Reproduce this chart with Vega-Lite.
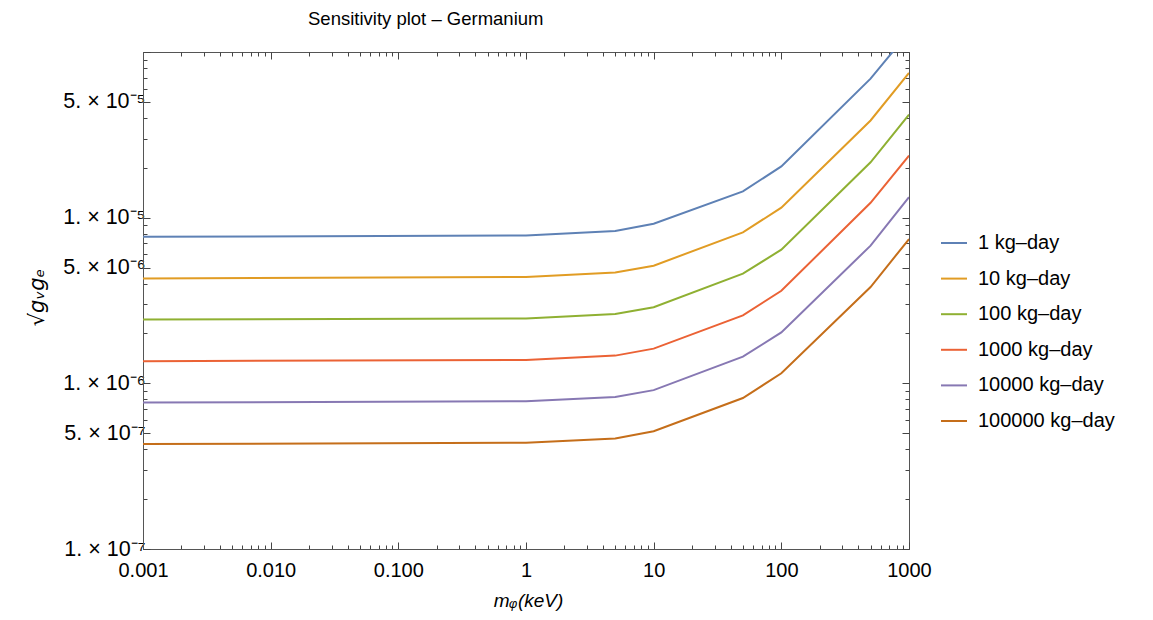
{
  "$schema": "https://vega.github.io/schema/vega-lite/v6.json",
  "width": 766,
  "height": 497,
  "autosize": "none",
  "padding": {"left": 143, "top": 52, "right": 244, "bottom": 71},
  "background": "white",
  "config": {
    "font": "Liberation Sans",
    "view": {"stroke": "#555", "strokeWidth": 1}
  },
  "title": {
    "text": "Sensitivity plot – Germanium",
    "anchor": "start",
    "frame": "group",
    "dx": 165,
    "offset": 13,
    "fontSize": 18.5,
    "fontWeight": "normal",
    "font": "Liberation Sans",
    "color": "black"
  },
  "data": {
    "values": [
      {"series": "1 kg–day", "m": 0.001, "g": 7.67e-6},
      {"series": "1 kg–day", "m": 1, "g": 7.8e-6},
      {"series": "1 kg–day", "m": 5, "g": 8.3e-6},
      {"series": "1 kg–day", "m": 10, "g": 9.2e-6},
      {"series": "1 kg–day", "m": 50, "g": 1.44e-5},
      {"series": "1 kg–day", "m": 100, "g": 2.04e-5},
      {"series": "1 kg–day", "m": 500, "g": 6.9e-5},
      {"series": "1 kg–day", "m": 1000, "g": 1.32e-4},
      {"series": "10 kg–day", "m": 0.001, "g": 4.3e-6},
      {"series": "10 kg–day", "m": 1, "g": 4.38e-6},
      {"series": "10 kg–day", "m": 5, "g": 4.67e-6},
      {"series": "10 kg–day", "m": 10, "g": 5.13e-6},
      {"series": "10 kg–day", "m": 50, "g": 8.15e-6},
      {"series": "10 kg–day", "m": 100, "g": 1.15e-5},
      {"series": "10 kg–day", "m": 500, "g": 3.86e-5},
      {"series": "10 kg–day", "m": 1000, "g": 7.48e-5},
      {"series": "100 kg–day", "m": 0.001, "g": 2.43e-6},
      {"series": "100 kg–day", "m": 1, "g": 2.46e-6},
      {"series": "100 kg–day", "m": 5, "g": 2.62e-6},
      {"series": "100 kg–day", "m": 10, "g": 2.88e-6},
      {"series": "100 kg–day", "m": 50, "g": 4.59e-6},
      {"series": "100 kg–day", "m": 100, "g": 6.41e-6},
      {"series": "100 kg–day", "m": 500, "g": 2.16e-5},
      {"series": "100 kg–day", "m": 1000, "g": 4.19e-5},
      {"series": "1000 kg–day", "m": 0.001, "g": 1.36e-6},
      {"series": "1000 kg–day", "m": 1, "g": 1.385e-6},
      {"series": "1000 kg–day", "m": 5, "g": 1.47e-6},
      {"series": "1000 kg–day", "m": 10, "g": 1.62e-6},
      {"series": "1000 kg–day", "m": 50, "g": 2.57e-6},
      {"series": "1000 kg–day", "m": 100, "g": 3.62e-6},
      {"series": "1000 kg–day", "m": 500, "g": 1.23e-5},
      {"series": "1000 kg–day", "m": 1000, "g": 2.37e-5},
      {"series": "10000 kg–day", "m": 0.001, "g": 7.66e-7},
      {"series": "10000 kg–day", "m": 1, "g": 7.8e-7},
      {"series": "10000 kg–day", "m": 5, "g": 8.28e-7},
      {"series": "10000 kg–day", "m": 10, "g": 9.1e-7},
      {"series": "10000 kg–day", "m": 50, "g": 1.45e-6},
      {"series": "10000 kg–day", "m": 100, "g": 2.03e-6},
      {"series": "10000 kg–day", "m": 500, "g": 6.78e-6},
      {"series": "10000 kg–day", "m": 1000, "g": 1.33e-5},
      {"series": "100000 kg–day", "m": 0.001, "g": 4.3e-7},
      {"series": "100000 kg–day", "m": 1, "g": 4.38e-7},
      {"series": "100000 kg–day", "m": 5, "g": 4.64e-7},
      {"series": "100000 kg–day", "m": 10, "g": 5.14e-7},
      {"series": "100000 kg–day", "m": 50, "g": 8.15e-7},
      {"series": "100000 kg–day", "m": 100, "g": 1.15e-6},
      {"series": "100000 kg–day", "m": 500, "g": 3.81e-6},
      {"series": "100000 kg–day", "m": 1000, "g": 7.43e-6}
    ]
  },
  "layer": [
    {
      "mark": {"type": "line", "clip": true, "strokeWidth": 2},
      "encoding": {
        "x": {
          "field": "m", "type": "quantitative",
          "scale": {"type": "log", "domain": [0.001, 1000], "nice": false},
          "axis": {
            "orient": "bottom",
            "title": "mᵩ(keV)",
            "titleFont": "Liberation Sans",
            "titleFontSize": 19,
            "titleFontWeight": "normal",
            "titleFontStyle": "italic",
            "titleColor": "black",
            "titleX": 385,
            "titleY": 51,
            "titleBaseline": "middle",
            "titleAlign": "center",
            "values": [0.001,0.002,0.003,0.004,0.005,0.006,0.007,0.008,0.009,0.01,0.02,0.03,0.04,0.05,0.06,0.07,0.08,0.09,0.1,0.2,0.3,0.4,0.5,0.6,0.7,0.8,0.9,1,2,3,4,5,6,7,8,9,10,20,30,40,50,60,70,80,90,100,200,300,400,500,600,700,800,900,1000],
            "labelExpr": "datum.value == 0.001 ? '0.001' : datum.value == 0.01 ? '0.010' : datum.value == 0.1 ? '0.100' : datum.value == 1 ? '1' : datum.value == 10 ? '10' : datum.value == 100 ? '100' : datum.value == 1000 ? '1000' : ''",
            "labelFontSize": 20,
            "labelColor": "black",
            "labelPadding": 18,
            "labelFlush": false,
            "labelBound": false,
            "labelAlign": "center",
            "labelOverlap": false,
            "grid": false,
            "domainColor": "#555",
            "tickColor": "#444",
            "tickSize": {"condition": {"test": "datum.value == 0.001 || datum.value == 0.01 || datum.value == 0.1 || datum.value == 1 || datum.value == 10 || datum.value == 100 || datum.value == 1000", "value": -7}, "value": -4}
          }
        },
        "y": {
          "field": "g", "type": "quantitative",
          "scale": {"type": "log", "domain": [1e-7, 1e-4], "nice": false},
          "axis": {
            "orient": "left",
            "title": "√gᵥgₑ",
            "titleFont": "DejaVu Sans",
            "titleFontSize": 21,
            "titleFontWeight": "normal",
            "titleFontStyle": "italic",
            "titleColor": "black",
            "titleAngle": 270,
            "titleX": -106,
            "titleY": 245,
            "titleBaseline": "middle",
            "titleAlign": "center",
            "values": [1e-7,2e-7,3e-7,4e-7,5e-7,6e-7,7e-7,8e-7,9e-7,1e-6,2e-6,3e-6,4e-6,5e-6,6e-6,7e-6,8e-6,9e-6,1e-5,2e-5,3e-5,4e-5,5e-5,6e-5,7e-5,8e-5,9e-5,1e-4],
            "labelExpr": "datum.value == 1e-7 ? '1. × 10⁻⁷' : datum.value == 5e-7 ? '5. × 10⁻⁷' : datum.value == 1e-6 ? '1. × 10⁻⁶' : datum.value == 5e-6 ? '5. × 10⁻⁶' : datum.value == 1e-5 ? '1. × 10⁻⁵' : datum.value == 5e-5 ? '5. × 10⁻⁵' : ''",
            "labelFontSize": 21.5,
            "labelColor": "black",
            "labelPadding": 5,
            "labelFlush": false,
            "labelOverlap": false,
            "grid": false,
            "domainColor": "#555",
            "tickColor": "#444",
            "tickSize": {"condition": {"test": "datum.value == 1e-7 || datum.value == 5e-7 || datum.value == 1e-6 || datum.value == 5e-6 || datum.value == 1e-5 || datum.value == 5e-5 || datum.value == 1e-4", "value": -7}, "value": -4}
          }
        },
        "color": {
          "field": "series", "type": "nominal",
          "scale": {
            "domain": ["1 kg–day", "10 kg–day", "100 kg–day", "1000 kg–day", "10000 kg–day", "100000 kg–day"],
            "range": ["#5E81B5", "#E19C24", "#8FB032", "#EB6235", "#8778B3", "#C56E1A"]
          },
          "legend": {
            "orient": "none",
            "legendX": 797,
            "legendY": 177,
            "title": null,
            "symbolType": "stroke",
            "symbolSize": 676,
            "symbolStrokeWidth": 2,
            "labelFontSize": 20,
            "labelColor": "black",
            "labelFont": "Liberation Sans",
            "rowPadding": 11.6,
            "labelOffset": 10
          }
        }
      }
    },
    {
      "mark": {"type": "line", "clip": true, "strokeOpacity": 0},
      "encoding": {
        "x": {
          "field": "m", "type": "quantitative",
          "scale": {"type": "log", "domain": [0.001, 1000], "nice": false},
          "axis": {
            "orient": "top",
            "title": null,
            "labels": false,
            "domain": false,
            "grid": false,
            "values": [0.001,0.002,0.003,0.004,0.005,0.006,0.007,0.008,0.009,0.01,0.02,0.03,0.04,0.05,0.06,0.07,0.08,0.09,0.1,0.2,0.3,0.4,0.5,0.6,0.7,0.8,0.9,1,2,3,4,5,6,7,8,9,10,20,30,40,50,60,70,80,90,100,200,300,400,500,600,700,800,900,1000],
            "tickColor": "#444",
            "tickSize": {"condition": {"test": "datum.value == 0.001 || datum.value == 0.01 || datum.value == 0.1 || datum.value == 1 || datum.value == 10 || datum.value == 100 || datum.value == 1000", "value": -7}, "value": -4}
          }
        },
        "y": {
          "field": "g", "type": "quantitative",
          "scale": {"type": "log", "domain": [1e-7, 1e-4], "nice": false},
          "axis": {
            "orient": "right",
            "title": null,
            "labels": false,
            "domain": false,
            "grid": false,
            "values": [1e-7,2e-7,3e-7,4e-7,5e-7,6e-7,7e-7,8e-7,9e-7,1e-6,2e-6,3e-6,4e-6,5e-6,6e-6,7e-6,8e-6,9e-6,1e-5,2e-5,3e-5,4e-5,5e-5,6e-5,7e-5,8e-5,9e-5,1e-4],
            "tickColor": "#444",
            "tickSize": {"condition": {"test": "datum.value == 1e-7 || datum.value == 5e-7 || datum.value == 1e-6 || datum.value == 5e-6 || datum.value == 1e-5 || datum.value == 5e-5 || datum.value == 1e-4", "value": -7}, "value": -4}
          }
        },
        "detail": {"field": "series", "type": "nominal"}
      }
    }
  ],
  "resolve": {"axis": {"x": "independent", "y": "independent"}}
}
